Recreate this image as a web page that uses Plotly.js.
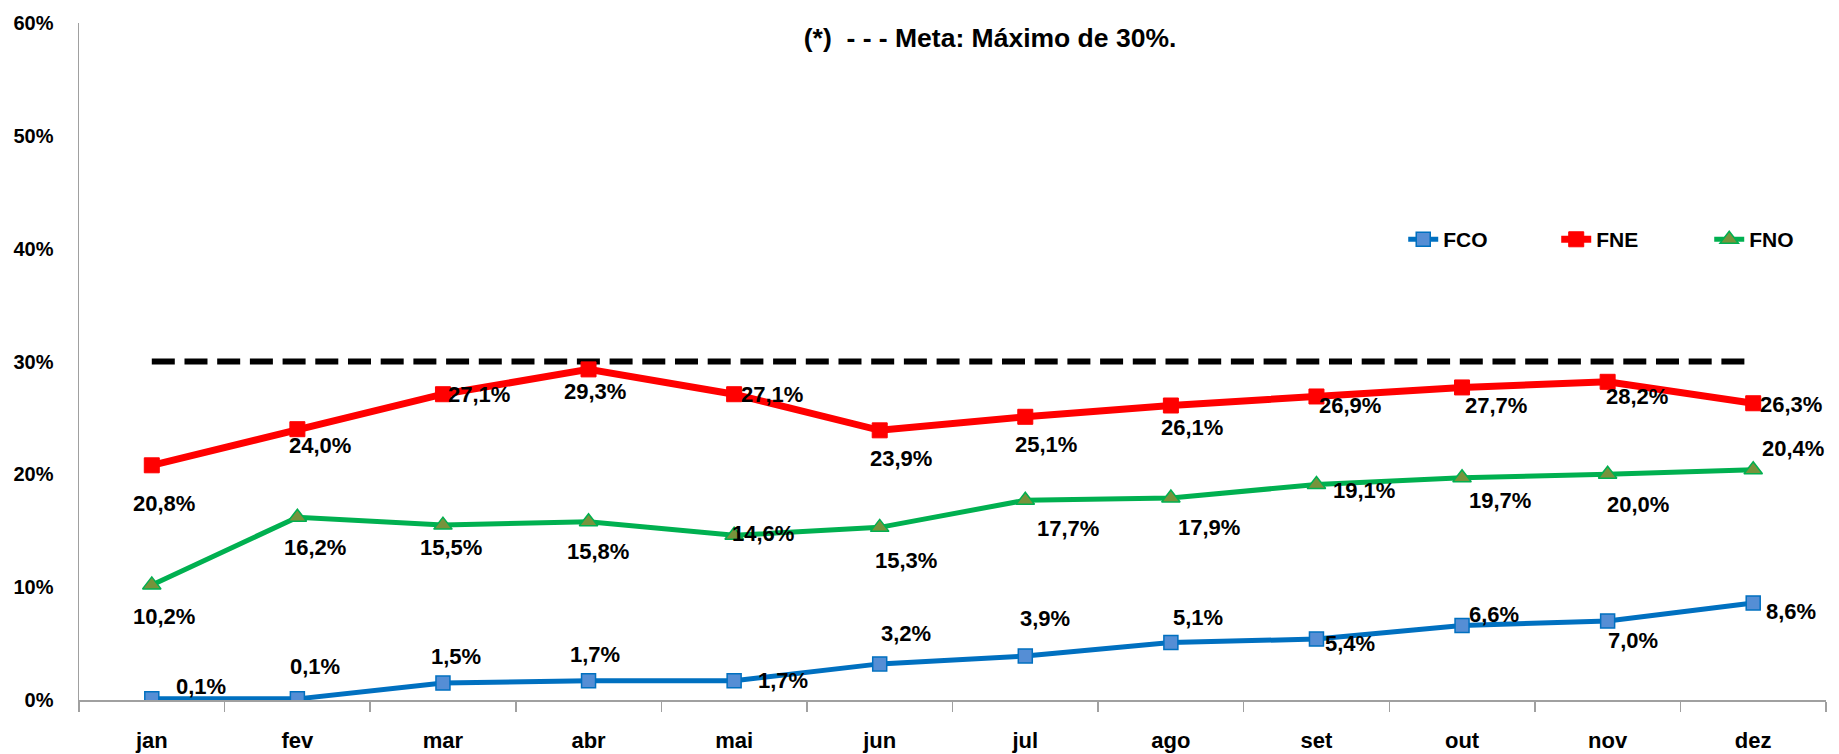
<!DOCTYPE html>
<html>
<head>
<meta charset="utf-8">
<script src="https://cdn.plot.ly/plotly-3.0.1.min.js"></script>
<style>html,body{margin:0;padding:0;background:#fff;}</style>
</head>
<body>
<div id="chart" style="width:1839px;height:754px;"></div>
<script>
const months = ["jan","fev","mar","abr","mai","jun","jul","ago","set","out","nov","dez"];
const fco = [0.1, 0.1, 1.5, 1.7, 1.7, 3.2, 3.9, 5.1, 5.4, 6.6, 7.0, 8.6];
const fne = [20.8, 24.0, 27.1, 29.3, 27.1, 23.9, 25.1, 26.1, 26.9, 27.7, 28.2, 26.3];
const fno = [10.2, 16.2, 15.5, 15.8, 14.6, 15.3, 17.7, 17.9, 19.1, 19.7, 20.0, 20.4];
const meta = [30, 30, 30, 30, 30, 30, 30, 30, 30, 30, 30, 30];
const yTicks = [0, 10, 20, 30, 40, 50, 60];
const titleText = "(*)  - - - Meta: Máximo de 30%.";

// label offsets in pixels (x right, y down)
const fcoDx = [49, 18, 13, 6, 49, 26, 20, 27, 34, 32, 25, 38];
const fcoDy = [-12, -32, -27, -26, 0, -30, -38, -25, 4, -11, 19, 9];
const fneDx = [12, 23, 36, 6, 38, 21, 21, 21, 34, 34, 29, 38];
const fneDy = [38, 16, 0, 22, 0, 28, 28, 22, 9, 18, 15, 1];
const fnoDx = [12, 18, 8, 9, 29, 26, 43, 38, 48, 38, 30, 40];
const fnoDy = [32, 30, 22, 30, -2, 33, 28, 29, 6, 23, 30, -21];

const FONT = '"Liberation Sans Narrow", "Liberation Sans", Arial, sans-serif';
const fmt = v => v.toFixed(1).replace('.', ',') + '%';

const traces = [
  {
    x: months, y: meta, type: 'scatter', mode: 'lines', showlegend: false,
    line: {color: '#000000', width: 6, dash: '23px,9.7px'}, hoverinfo: 'skip'
  },
  {
    x: months, y: fco, type: 'scatter', mode: 'lines+markers', name: 'FCO',
    line: {color: '#0070C0', width: 5},
    marker: {symbol: 'square', size: 14, color: '#558ED5', line: {color: '#0070C0', width: 1.5}}
  },
  {
    x: months, y: fne, type: 'scatter', mode: 'lines+markers', name: 'FNE',
    line: {color: '#FF0000', width: 7},
    marker: {symbol: 'square', size: 15, color: '#FF0000', line: {color: '#FF0000', width: 1}}
  },
  {
    x: months, y: fno, type: 'scatter', mode: 'lines+markers', name: 'FNO',
    line: {color: '#00B050', width: 5},
    marker: {symbol: 'triangle-up', size: 16, color: '#77933C', line: {color: '#00B050', width: 1.5}}
  }
];

const annotations = [];
function addLabels(vals, dx, dy) {
  vals.forEach((v, i) => {
    annotations.push({
      x: months[i], y: v, xref: 'x', yref: 'y', text: fmt(v), showarrow: false,
      xshift: dx[i], yshift: -dy[i], xanchor: 'center', yanchor: 'middle',
      font: {family: FONT, size: 22, color: '#000000', weight: 'bold'}
    });
  });
}
addLabels(fco, fcoDx, fcoDy);
addLabels(fne, fneDx, fneDy);
addLabels(fno, fnoDx, fnoDy);

const layout = {
  width: 1839, height: 754, autosize: false,
  margin: {l: 79, r: 13, t: 23, b: 54, autoexpand: false},
  paper_bgcolor: '#ffffff', plot_bgcolor: '#ffffff',
  font: {family: FONT, color: '#000000', weight: 'bold'},
  title: {
    text: titleText, x: 0.5215, xref: 'paper', xanchor: 'center',
    y: 0.95, yref: 'container', yanchor: 'middle',
    font: {family: FONT, size: 26.5, color: '#000000', weight: 'bold'}
  },
  xaxis: {
    type: 'category', range: [-0.5, months.length - 0.5], autorange: false,
    tickson: 'boundaries', ticks: 'outside', ticklen: 10, tickwidth: 1.5,
    tickcolor: '#A0A0A0', showline: true, linecolor: '#A0A0A0', linewidth: 1.5,
    showgrid: false, zeroline: false, ticklabelstandoff: 20,
    tickfont: {family: FONT, size: 22, color: '#000000', weight: 'bold'}
  },
  yaxis: {
    range: [0, 60], autorange: false, tickvals: yTicks, ticktext: yTicks.map(t => t + '%'),
    showline: true, linecolor: '#A0A0A0', linewidth: 1.5, showgrid: false, zeroline: false,
    ticks: 'outside', ticklen: 0, ticklabelstandoff: 20,
    tickfont: {family: FONT, size: 20, color: '#000000', weight: 'bold'}
  },
  legend: {
    orientation: 'h', x: 0.758, xanchor: 'left', y: 0.68, yanchor: 'middle',
    entrywidth: 108, entrywidthmode: 'pixels', bgcolor: 'rgba(0,0,0,0)',
    font: {family: FONT, size: 21, color: '#000000', weight: 'bold'}
  },
  annotations: annotations,
  showlegend: true
};

Plotly.newPlot('chart', traces, layout, {displayModeBar: false, staticPlot: true});
</script>
</body>
</html>
